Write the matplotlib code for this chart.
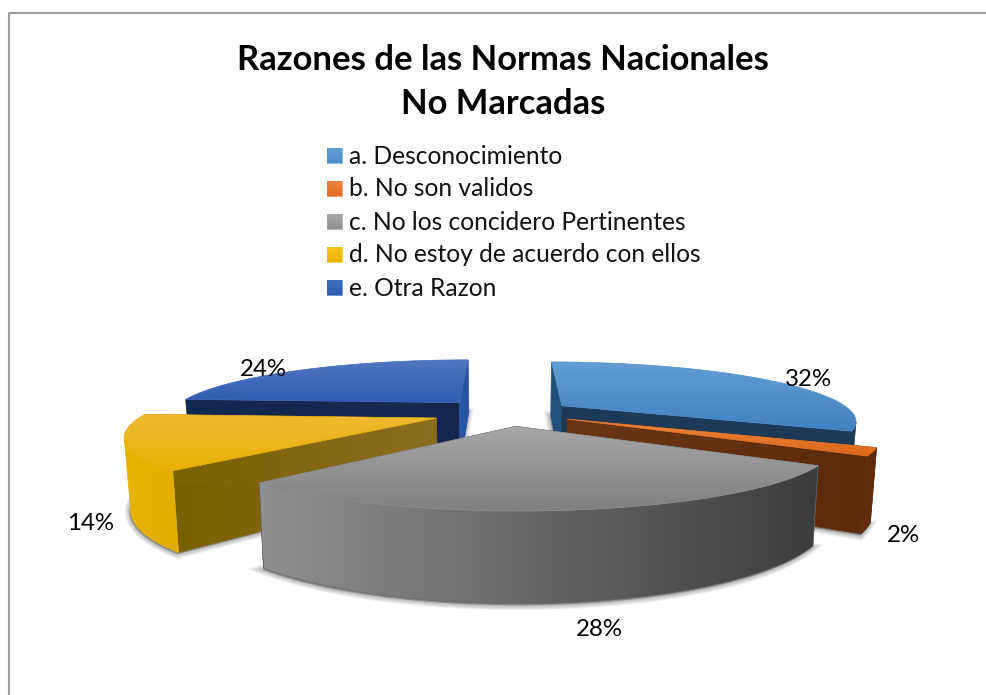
import numpy as np
import matplotlib
matplotlib.use("Agg")
import matplotlib.pyplot as plt
from matplotlib.colors import to_rgb
from matplotlib.patches import Polygon

plt.rcParams['font.family'] = ['Lato', 'DejaVu Sans']

TITLE = "Razones de las Normas Nacionales\nNo Marcadas"
CATEGORIES = ["a. Desconocimiento", "b. No son validos", "c. No los concidero Pertinentes",
              "d. No estoy de acuerdo con ellos", "e. Otra Razon"]
VALUES = [32, 2, 28, 14, 24]

### top face gradient, far to near
TOP_COLORS = [("#659fd4", "#3f80bf"), ("#ed8a45", "#dd6414"), ("#a8a8a8", "#7e7e7e"),
              ("#efbb35", "#e6b000"), ("#5378c2", "#2c5aae")]
### arc wall gradient, left to right
ARC_COLORS = [("#1c3a57", "#1c3a57"), ("#5f2e0e", "#5f2c0a"), ("#909090", "#3c3c3c"),
              ("#e8b400", "#e2ad00"), ("#14284f", "#14284f")]
### radial walls: start of slice, end of slice (left to right)
START_WALL = [("#234f78", "#245480"), ("#5f2e0e", "#6a3614"), ("#555555", "#555555"),
              ("#786000", "#8a6d20"), ("#14284f", "#14284f")]
END_WALL = [("#1c3a57", "#1c3a57"), ("#693716", "#5c2b0c"), ("#555555", "#555555"),
            ("#786000", "#8a6d20"), ("#2c58a6", "#2450a0")]
LEGEND_COLORS = [("#69a5da", "#4a8ac8"), ("#f08c50", "#e2661a"), ("#b0b0b0", "#8c8c8c"),
                 ("#ffcc20", "#e8b000"), ("#4a74c4", "#2c5aae")]
DRAW_ORDER = [4, 0, 3, 1, 2]    ### far slices first
LABEL_POS = [(808, 380), (903, 536), (599, 629), (91, 523), (263, 369)]

### camera fit to the picture
UC, VC = 507.0, 412.6
A, B = 291.0, 57.0
KU, KV = 0.24, 0.235
EXPLODE = [0.23, 0.23, 0.23, 0.255, 0.25]
HEIGHT = 66.0
BOTTOM_SCALE = 0.983

fig = plt.figure(figsize=(9.86, 6.95), dpi=100)
ax = fig.add_axes([0, 0, 1, 1])
zcount = [2]


def nextz():
  zcount[0] += 1
  return zcount[0]


def project(x, y, bottom=False):
  wu = 1.0 + KU * y
  wv = 1.0 + KV * y
  u = UC + A * x / wu
  v = VC - B * y / wv
  if bottom:
    u = UC + (u - UC) * BOTTOM_SCALE
    v = v + HEIGHT / wv
  return np.column_stack([u, v])


def grad_fill(poly, colors, vertical=True):
  c0, c1 = np.array(to_rgb(colors[0])), np.array(to_rgb(colors[1]))
  t = np.linspace(0, 1, 64)
  row = c0[None, :] * (1 - t[:, None]) + c1[None, :] * t[:, None]
  img = row[:, None, :] if vertical else row[None, :, :]
  ### image a little larger than the polygon, bilinear fades out at its border
  pad = 3
  ext = (poly[:, 0].min() - pad, poly[:, 0].max() + pad, poly[:, 1].max() + pad, poly[:, 1].min() - pad)
  z = nextz()
  im = ax.imshow(img, extent=ext, aspect='auto', origin='upper', interpolation='bilinear', zorder=z)
  clip = Polygon(poly, closed=True, transform=ax.transData, fc='none', ec='none')
  ax.add_patch(clip)
  im.set_clip_path(clip)
  ### thin edge hides the jaggies from the clip
  ax.add_patch(Polygon(poly, closed=True, fc='none', ec=tuple((c0 + c1) / 2), lw=0.5, zorder=z))


def shadow(poly):
  shifted = poly + np.array([-1.0, 1.5])
  z = nextz()
  for lw in (7, 5.5, 4, 2.5, 1):
    ax.add_patch(Polygon(shifted, closed=True, fc=(0, 0, 0, 0.06), ec=(0, 0, 0, 0.06), lw=lw, zorder=z))


def draw_slice(i, a0, a1):
  mid = (a0 + a1) / 2.0
  ox, oy = EXPLODE[i] * np.sin(mid), EXPLODE[i] * np.cos(mid)
  t = np.linspace(a0, a1, 160)
  xs, ys = ox + np.sin(t), oy + np.cos(t)
  top_arc = project(xs, ys)
  bot_arc = project(xs, ys, bottom=True)
  apex = project(np.array([ox]), np.array([oy]))
  apex_b = project(np.array([ox]), np.array([oy]), bottom=True)

  shadow(np.vstack([apex_b, bot_arc]))
  wall0 = np.vstack([top_arc[:1], apex, apex_b, bot_arc[:1]])
  wall1 = np.vstack([top_arc[-1:], apex, apex_b, bot_arc[-1:]])
  grad_fill(wall0, START_WALL[i], vertical=False)
  grad_fill(wall1, END_WALL[i], vertical=False)
  ### only the part of the arc wall that faces the camera
  camy = -1.0 / KU
  facing = (-xs) * np.sin(t) + (camy - ys) * np.cos(t) > 0
  if facing.sum() > 1:
    grad_fill(np.vstack([top_arc[facing], bot_arc[facing][::-1]]), ARC_COLORS[i], vertical=False)
  grad_fill(np.vstack([apex, top_arc]), TOP_COLORS[i], vertical=True)


values = np.array(VALUES, dtype=float)
edges = np.concatenate([[0.0], np.cumsum(values) / values.sum() * 2.0 * np.pi])
for i in DRAW_ORDER:
  draw_slice(i, edges[i], edges[i + 1])

for i, (lx, ly) in enumerate(LABEL_POS):
  ax.text(lx, ly, f"{VALUES[i]}%", ha='center', va='center', fontsize=17.3, color='black', zorder=500)

ax.text(503, 82, TITLE, ha='center', va='center', fontsize=24.9, fontweight='bold',
        color='black', linespacing=1.45, zorder=500)

for i, name in enumerate(CATEGORIES):
  cy = 155 + i * 33
  grad_fill(np.array([[327.0, cy - 7.5], [342.0, cy - 7.5], [342.0, cy + 7.5], [327.0, cy + 7.5]]),
            LEGEND_COLORS[i], vertical=True)
  ax.text(349, cy + 1, name, ha='left', va='center', fontsize=17.7, color='#111111', zorder=500)

### chart frame, only left and top are inside the crop
ax.plot([8.5, 8.5, 986], [695, 12.5, 12.5], color='#9c9c9c', lw=1.5, zorder=500)

ax.set_xlim(0, 986)
ax.set_ylim(695, 0)
ax.axis('off')
fig.savefig('out.png', dpi=100, facecolor='white')
